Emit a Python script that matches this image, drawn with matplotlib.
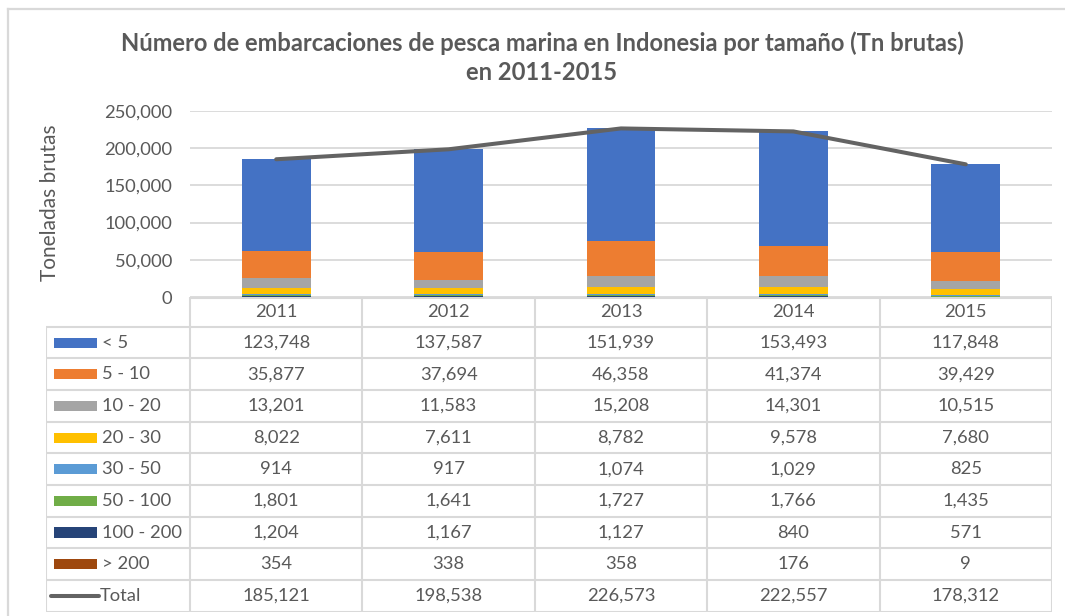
import matplotlib
matplotlib.use("Agg")
import matplotlib.pyplot as plt
from matplotlib.patches import Rectangle
from matplotlib.lines import Line2D
import numpy as np

# ---------------- data ----------------
years = ["2011", "2012", "2013", "2014", "2015"]
categories = ["< 5", "5 - 10", "10 - 20", "20 - 30", "30 - 50", "50 - 100", "100 - 200", "> 200"]
lt5 = [123748, 137587, 151939, 153493, 117848]
s5_10 = [35877, 37694, 46358, 41374, 39429]
s10_20 = [13201, 11583, 15208, 14301, 10515]
s20_30 = [8022, 7611, 8782, 9578, 7680]
s30_50 = [914, 917, 1074, 1029, 825]
s50_100 = [1801, 1641, 1727, 1766, 1435]
s100_200 = [1204, 1167, 1127, 840, 571]
gt200 = [354, 338, 358, 176, 9]
total = [185121, 198538, 226573, 222557, 178312]
yticks = [0, 50000, 100000, 150000, 200000, 250000]

title = "Número de embarcaciones de pesca marina en Indonesia por tamaño (Tn brutas)\nen 2011-2015"
ylabel = "Toneladas brutas"

series = [lt5, s5_10, s10_20, s20_30, s30_50, s50_100, s100_200, gt200]
colors = ["#4472C4", "#ED7D31", "#A5A5A5", "#FFC000", "#5B9BD5", "#70AD47", "#264478", "#9E480E"]
line_color = "#636363"
text_color = "#595959"
grid_color = "#D9D9D9"
FONT = ["Lato", "DejaVu Sans"]
plt.rcParams["font.family"] = FONT
FS = 13.2

W, H = 1065, 616
fig = plt.figure(figsize=(W / 100, H / 100), dpi=100)
fig.patch.set_facecolor("white")


def fx(px):
    return px / W


def fy(py):
    return 1 - py / H


# outer frame (top and left only visible)
fig.add_artist(Line2D([fx(8), fx(W)], [fy(8.5), fy(8.5)], color=grid_color, lw=1.6, transform=fig.transFigure))
fig.add_artist(Line2D([fx(8), fx(8)], [fy(8.5), fy(H)], color=grid_color, lw=1.6, transform=fig.transFigure))

# ---------------- main plot ----------------
pl, pr, pt, pb = 190, 1052, 111, 297
ax = fig.add_axes([fx(pl), fy(pb), fx(pr - pl), (pb - pt) / H])
x = np.arange(len(years))
bottom = np.zeros(len(years))
# Excel stacks the last series at the bottom
for vals, c in reversed(list(zip(series, colors))):
    ax.bar(x, vals, width=0.4, bottom=bottom, color=c, zorder=2)
    bottom += np.array(vals)
ax.plot(x, total, color=line_color, lw=2.9, solid_capstyle="round", zorder=3)
ax.set_xlim(-0.5, len(years) - 0.5)
ax.set_ylim(0, yticks[-1])
ax.set_yticks(yticks)
ax.set_yticklabels([f"{v:,}" for v in yticks], color=text_color, fontsize=FS)
ax.tick_params(axis="y", length=0, pad=13)
ax.set_xticks([])
for s in ax.spines.values():
    s.set_visible(False)
ax.yaxis.grid(True, color=grid_color, lw=1.3, zorder=0)
ax.set_axisbelow(True)

fig.text(fx(50), fy(203), ylabel, rotation=90, ha="center", va="center", color=text_color, fontsize=15)
fig.text(fx(542), fy(58), title, ha="center", va="center", color=text_color, fontsize=17.1,
         fontweight="bold", linespacing=1.3)

# ---------------- data table ----------------
tl, tt, tb = 46, 297, 611.7
colw = (pr - pl) / len(years)
x0 = -0.5 - (pl - tl) / colw
h0 = 0.94
nrows = len(categories) + 1
axt = fig.add_axes([fx(tl), fy(tb), fx(pr - tl), (tb - tt) / H])
axt.set_xlim(x0, len(years) - 0.5)
axt.set_ylim(nrows + h0, 0)
axt.axis("off")
lc = dict(color=grid_color, lw=1.5, solid_capstyle="butt")
# horizontal lines
axt.plot([-0.5, len(years) - 0.5], [0, 0], color=grid_color, lw=2.2, solid_capstyle="butt")
for i in range(nrows + 1):
    y = h0 + i
    axt.plot([x0, len(years) - 0.5], [y, y], **lc)
# vertical lines
axt.plot([x0, x0], [h0, nrows + h0], **lc)
for j in range(len(years) + 1):
    xv = -0.5 + j
    axt.plot([xv, xv], [0, nrows + h0], **lc)

for j, yr in enumerate(years):
    axt.text(j, h0 / 2, yr, ha="center", va="center", color=text_color, fontsize=FS)

row_vals = series + [total]
row_labels = categories + ["Total"]
kx = x0 + 8 / colw
kw = 43 / colw
lab_x = x0 + 56 / colw
for i, (lab, vals) in enumerate(zip(row_labels, row_vals)):
    yc = h0 + i + 0.5
    if i < len(series):
        axt.add_patch(Rectangle((kx, yc - 0.16), kw, 0.32, color=colors[i], lw=0))
    else:
        axt.plot([x0 + 5 / colw, x0 + 53 / colw], [yc, yc], color=line_color, lw=2.9, solid_capstyle="round")
    axt.text(lab_x if i < len(series) else x0 + 54 / colw, yc, lab, ha="left", va="center",
             color=text_color, fontsize=FS)
    for j, v in enumerate(vals):
        axt.text(j, yc, f"{v:,}", ha="center", va="center", color=text_color, fontsize=FS)

fig.savefig("out.png", dpi=100, facecolor="white")
